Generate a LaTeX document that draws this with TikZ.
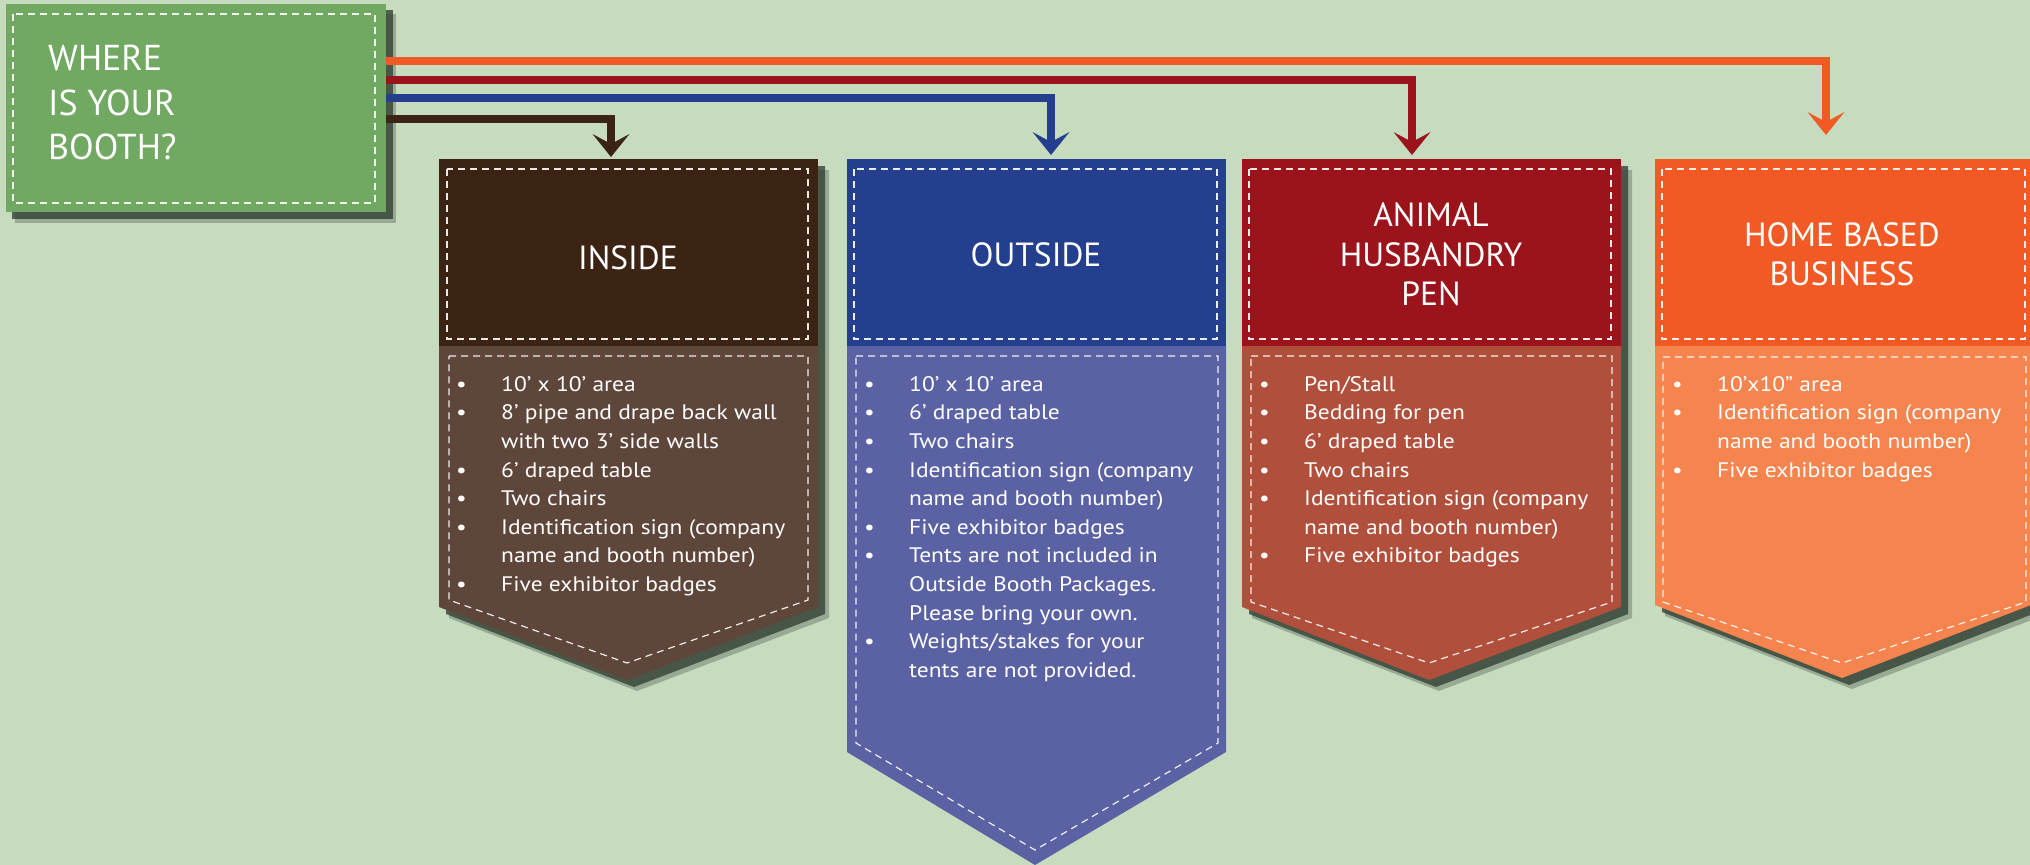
\documentclass[tikz,border=0pt]{standalone}
\usepackage{fontspec}
\setmainfont{PT Sans}
\newfontfamily\listfont[FakeStretch=1.12]{PT Sans}
\usetikzlibrary{arrows.meta}

\definecolor{bgc}{HTML}{C7DBBF}
\definecolor{greenc}{HTML}{71A962}
\definecolor{shadowc}{HTML}{2C3A2E}
\definecolor{brownhead}{HTML}{3C2415}
\definecolor{brownbody}{HTML}{5E463B}
\definecolor{bluehead}{HTML}{253F8F}
\definecolor{bluebody}{HTML}{5A62A3}
\definecolor{redhead}{HTML}{9B141B}
\definecolor{redbody}{HTML}{B0503C}
\definecolor{orangehead}{HTML}{F15A24}
\definecolor{orangebody}{HTML}{F5844E}

\newcommand{\itembul}{\strut\makebox[45pt][l]{•}}
\newcommand{\itemind}{\strut\hspace*{45pt}}

\tikzset{
  flow/.style={line width=8pt, -{Stealth[length=23pt,width=37pt,inset=10pt,line width=0pt]}},
  stitch/.style={draw=white, draw opacity=0.9, line width=1.2pt, dash pattern=on 7pt off 5pt},
  castshadow/.style={fill=shadowc, fill opacity=0.75},
  softshadow/.style={fill=shadowc, fill opacity=0.3},
  headbox/.style={rectangle, inner sep=0pt, minimum width=379pt, minimum height=187pt, anchor=north west},
  headlabel/.style={inner sep=0pt, text=white, align=center, font=\fontsize{33.5}{39.5}\selectfont},
  listtext/.style={anchor=north west, inner sep=0pt, text=white, align=left, font=\listfont\fontsize{21}{28.6}\selectfont},
}

\begin{document}
\begin{tikzpicture}[x=1pt,y=1pt,yscale=-1,xscale=1]
\useasboundingbox (0,0) rectangle (2030,865);
\clip (0,0) rectangle (2030,865);

%Shape: Rectangle [background]
\fill[bgc] (0,0) rectangle (2030,865);

%Shape: Shadows
\fill[softshadow] (15,14) rectangle (396,223);
\fill[castshadow] (12,10) rectangle (393,219);
\fill[softshadow] (449,170) -- (829,170) -- (829,618) -- (637,691) -- (449,618) -- cycle;
\fill[castshadow] (446,166) -- (825,166) -- (825,614) -- (634,687) -- (446,614) -- cycle;
\fill[softshadow] (1252,170) -- (1632,170) -- (1632,618) -- (1439,691) -- (1252,618) -- cycle;
\fill[castshadow] (1249,166) -- (1628,166) -- (1628,614) -- (1436,687) -- (1249,614) -- cycle;
\fill[softshadow] (1665,170) -- (2042,170) -- (2042,616) -- (1852,689) -- (1665,616) -- cycle;
\fill[castshadow] (1662,166) -- (2038,166) -- (2038,612) -- (1849,685) -- (1662,612) -- cycle;

%Shape: Rectangle [where]
\node[headbox, fill=greenc, minimum width=380pt, minimum height=208pt] (where) at (6,4) {};
\draw[stitch] (13,14) rectangle (375,203);
% Text Node
\node[anchor=west, inner sep=0pt, text=white, align=left, font=\fontsize{36}{44.5}\selectfont] (wherelabel) at (48,102.5) {WHERE\\IS YOUR\\BOOTH?};

%Shape: Rectangle [inside]
\node[headbox, fill=brownhead] (inside) at (439,159) {};
\fill[brownbody] (439,346) -- (818,346) -- (818,607) -- (627,680) -- (439,607) -- cycle;
\draw[stitch] (447,169) rectangle (808,339);
\draw[stitch] (449,356) -- (808,356) -- (808,600) -- (627,663) -- (449,600) -- cycle;

%Shape: Rectangle [outside]
\node[headbox, fill=bluehead] (outside) at (847,159) {};
\fill[bluebody] (847,346) -- (1226,346) -- (1226,752) -- (1035,865) -- (847,752) -- cycle;
\draw[stitch] (854,169) rectangle (1217,339);
\draw[stitch] (856,356) -- (1218,356) -- (1218,743) -- (1035,850) -- (856,743) -- cycle;

%Shape: Rectangle [animal]
\node[headbox, fill=redhead] (animal) at (1242,159) {};
\fill[redbody] (1242,346) -- (1621,346) -- (1621,607) -- (1429,680) -- (1242,607) -- cycle;
\draw[stitch] (1249,169) rectangle (1611,339);
\draw[stitch] (1251,356) -- (1612,356) -- (1612,602) -- (1429,663) -- (1251,602) -- cycle;

%Shape: Rectangle [home]
\node[headbox, fill=orangehead, minimum width=376pt] (homebiz) at (1655,159) {};
\fill[orangebody] (1655,346) -- (2031,346) -- (2031,605) -- (1842,678) -- (1655,605) -- cycle;
\draw[stitch] (1662,169) rectangle (2025,339);
\draw[stitch] (1663,357) -- (2026,357) -- (2026,602) -- (1842,663) -- (1663,602) -- cycle;

%Connectors
\draw[flow, orangehead, shorten >=24pt] (where.east |- 0,61) -| (1826,0 |- homebiz.north);
\draw[flow, redhead, shorten >=4pt] (where.east |- 0,80) -| (1412,0 |- animal.north);
\draw[flow, bluehead, shorten >=4pt] (where.east |- 0,98) -| (1051,0 |- outside.north);
\draw[flow, brownhead, shorten >=2pt] (where.east |- 0,119) -| (611,0 |- inside.north);

% Text Node
\node[headlabel] (insidelabel) at (628,258) {INSIDE};
% Text Node
\node[headlabel] (outsidelabel) at (1036,255) {OUTSIDE};
% Text Node
\node[headlabel] (animallabel) at (1431,254.5) {ANIMAL\\HUSBANDRY\\PEN};
% Text Node
\node[headlabel] (homebizlabel) at (1842,254.5) {HOME BASED\\BUSINESS};

% Text Node
\node[listtext] (insidelist) at (456,371) {\itembul 10’ x 10’ area\\
\itembul 8’ pipe and drape back wall\\
\itemind with two 3’ side walls\\
\itembul 6’ draped table\\
\itembul Two chairs\\
\itembul Identification sign (company\\
\itemind name and booth number)\\
\itembul Five exhibitor badges};
% Text Node
\node[listtext] (outsidelist) at (864,371) {\itembul 10’ x 10’ area\\
\itembul 6’ draped table\\
\itembul Two chairs\\
\itembul Identification sign (company\\
\itemind name and booth number)\\
\itembul Five exhibitor badges\\
\itembul Tents are not included in\\
\itemind Outside Booth Packages.\\
\itemind Please bring your own.\\
\itembul Weights/stakes for your\\
\itemind tents are not provided.};
% Text Node
\node[listtext] (animallist) at (1259,371) {\itembul Pen/Stall\\
\itembul Bedding for pen\\
\itembul 6’ draped table\\
\itembul Two chairs\\
\itembul Identification sign (company\\
\itemind name and booth number)\\
\itembul Five exhibitor badges};
% Text Node
\node[listtext] (homebizlist) at (1672,371) {\itembul 10’x10” area\\
\itembul Identification sign (company\\
\itemind name and booth number)\\
\itembul Five exhibitor badges};

\end{tikzpicture}
\end{document}
